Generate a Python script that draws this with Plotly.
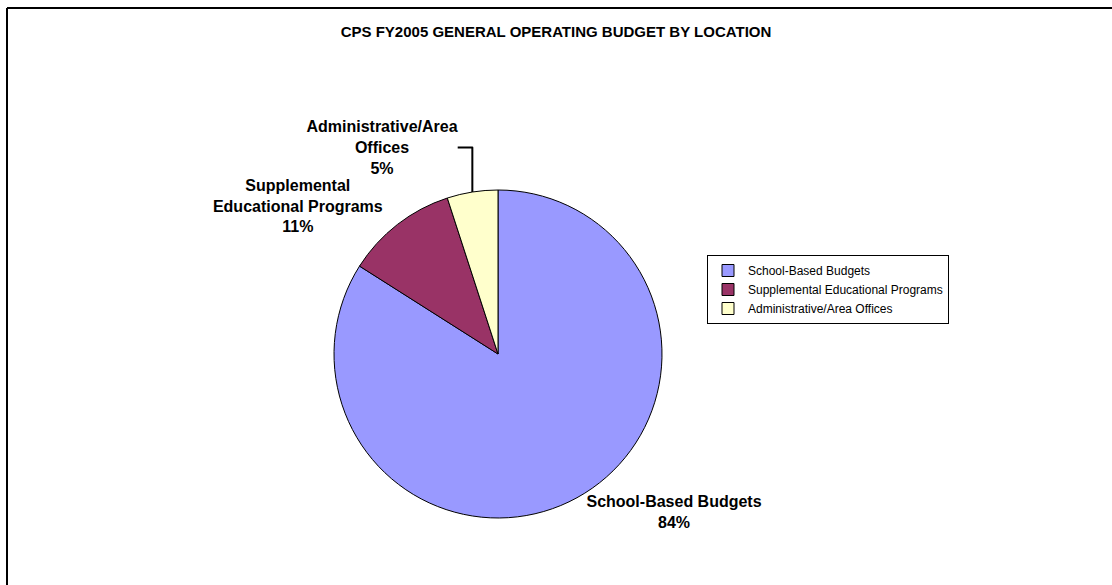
import plotly.graph_objects as go

W, H = 1112, 585

labels = ['School-Based Budgets', 'Supplemental Educational Programs', 'Administrative/Area Offices']
label_lines = ['School-Based Budgets', 'Supplemental<br>Educational Programs', 'Administrative/Area<br>Offices']
shares = [84, 11, 5]
colors = ['#9999FF', '#993366', '#FFFFCC']
title = 'CPS FY2005 GENERAL OPERATING BUDGET BY LOCATION'

# pie centre and radius in pixels
cx, cy, r = 498, 354, 164

fig = go.Figure()
fig.add_trace(go.Pie(
    labels=labels, values=shares, text=label_lines, sort=False, direction='clockwise', rotation=0,
    marker=dict(colors=colors, line=dict(color='black', width=1)),
    texttemplate='<b>%{text}<br>%{percent:.0%}</b>',
    textposition='outside',
    textfont=dict(family='Liberation Sans, Arial', size=16, color='black'),
    domain=dict(x=[(cx - r) / W, (cx + r) / W], y=[1 - (cy + r) / H, 1 - (cy - r) / H]),
    showlegend=True,
))

fig.update_layout(
    width=W, height=H, margin=dict(l=0, r=0, t=0, b=0),
    paper_bgcolor='white', plot_bgcolor='white',
    title=dict(text='<b>' + title + '</b>', x=0.5, xanchor='center', y=1 - 32 / H, yanchor='middle',
               font=dict(family='Liberation Sans, Arial', size=15, color='black')),
    legend=dict(x=707 / W, y=1 - 255 / H, xanchor='left', yanchor='top',
                bordercolor='black', borderwidth=1, bgcolor='white',
                font=dict(family='Liberation Sans, Arial', size=12, color='black'),
                itemwidth=30, tracegroupgap=0),
    shapes=[
        dict(type='line', xref='paper', yref='paper', x0=7 / W, x1=1.01, y0=1 - 8 / H, y1=1 - 8 / H,
             line=dict(color='black', width=2)),
        dict(type='line', xref='paper', yref='paper', x0=7 / W, x1=7 / W, y0=1 - 8 / H, y1=-0.01,
             line=dict(color='black', width=2)),
    ],
)

fig.write_html('out.html', config={'displayModeBar': False},
               post_script="document.body.style.margin='0';")
